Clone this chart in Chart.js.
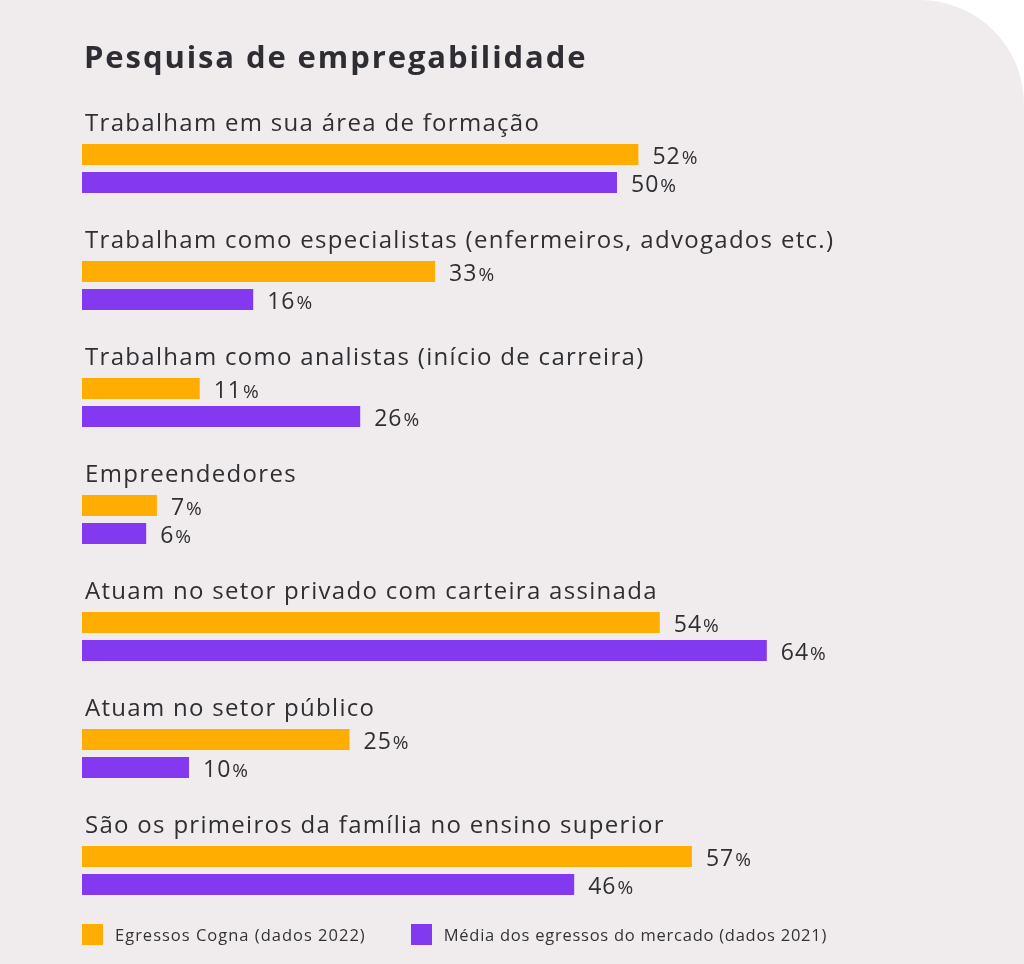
<!DOCTYPE html>
<html><head><meta charset="utf-8">
<script src="https://cdn.jsdelivr.net/npm/chart.js@4"></script>
<style>
html,body{margin:0;padding:0;background:#fff;}
#wrap{position:relative;width:1024px;height:964px;background:#F0ECED;border-top-right-radius:104px;overflow:hidden;}
#title{position:absolute;left:84px;top:35px;font-family:"Open Sans",sans-serif;font-weight:700;font-size:31px;color:#2E2D33;letter-spacing:1.9px;white-space:nowrap;}
#legend{position:absolute;left:82px;top:923px;font-family:"Open Sans",sans-serif;font-size:16.5px;color:#333;display:flex;align-items:center;}
.item{display:flex;align-items:center;}
.sw{width:21px;height:21px;margin-right:12px;}
canvas{position:absolute;left:0;top:0;}
</style></head>
<body><div id="wrap">
<canvas id="c" width="1024" height="964"></canvas>
<div id="title">Pesquisa de empregabilidade</div>
<div id="legend"></div>
</div>
<script>
const categories = [
  "Trabalham em sua área de formação",
  "Trabalham como especialistas (enfermeiros, advogados etc.)",
  "Trabalham como analistas (início de carreira)",
  "Empreendedores",
  "Atuam no setor privado com carteira assinada",
  "Atuam no setor público",
  "São os primeiros da família no ensino superior"
];
const seriesNames = ["Egressos Cogna (dados 2022)", "Média dos egressos do mercado (dados 2021)"];
const cognaValues = [52, 33, 11, 7, 54, 25, 57];
const mercadoValues = [50, 16, 26, 6, 64, 10, 46];
const colors = ["#FFAD00", "#8239F0"];

const FONT = '"Open Sans", sans-serif';
const labelsPlugin = {
  id: 'labels',
  afterDatasetsDraw(chart) {
    const ctx = chart.ctx;
    ctx.save();
    const m0 = chart.getDatasetMeta(0);
    ctx.fillStyle = '#2F2F33';
    ctx.textAlign = 'left';
    ctx.textBaseline = 'alphabetic';
    ctx.font = '400 24px ' + FONT;
    ctx.letterSpacing = '1.3px';
    m0.data.forEach((bar, i) => {
      const top = bar.y - bar.height / 2;
      ctx.fillText(chart.data.labels[i], chart.chartArea.left + 3, top - 13);
    });
    chart.data.datasets.forEach((ds, di) => {
      const meta = chart.getDatasetMeta(di);
      meta.data.forEach((bar, i) => {
        const v = String(ds.data[i]);
        const x = bar.x + 14;
        const y = bar.y + 9;
        ctx.font = '400 23px ' + FONT;
        ctx.letterSpacing = '1px';
        ctx.fillText(v, x, y);
        const w = ctx.measureText(v).width;
        ctx.font = '400 19px ' + FONT;
        ctx.letterSpacing = '0px';
        ctx.fillText('%', x + w + 1, y);
      });
    });
    ctx.restore();
  }
};

new Chart(document.getElementById('c'), {
  type: 'bar',
  data: {
    labels: categories,
    datasets: [
      { label: seriesNames[0], data: cognaValues, backgroundColor: colors[0], borderWidth: 0 },
      { label: seriesNames[1], data: mercadoValues, backgroundColor: colors[1], borderWidth: 0 }
    ]
  },
  options: {
    indexAxis: 'y',
    responsive: false,
    animation: false,
    devicePixelRatio: 1,
    categoryPercentage: 56/117,
    barPercentage: 0.75,
    layout: { padding: { left: 82, right: 86, top: 110, bottom: 35 } },
    scales: {
      x: { min: 0, max: 80, display: false },
      y: { display: false }
    },
    plugins: { legend: { display: false }, tooltip: { enabled: false } }
  },
  plugins: [labelsPlugin]
});

const lg = document.getElementById('legend');
seriesNames.forEach((n, i) => {
  const it = document.createElement('div');
  it.className = 'item';
  it.style.marginRight = i === 0 ? '45px' : '0';
  it.style.letterSpacing = i === 0 ? '1px' : '0.75px';
  it.innerHTML = '<span class="sw" style="background:' + colors[i] + '"></span><span>' + n + '</span>';
  lg.appendChild(it);
});
</script>
</body></html>
